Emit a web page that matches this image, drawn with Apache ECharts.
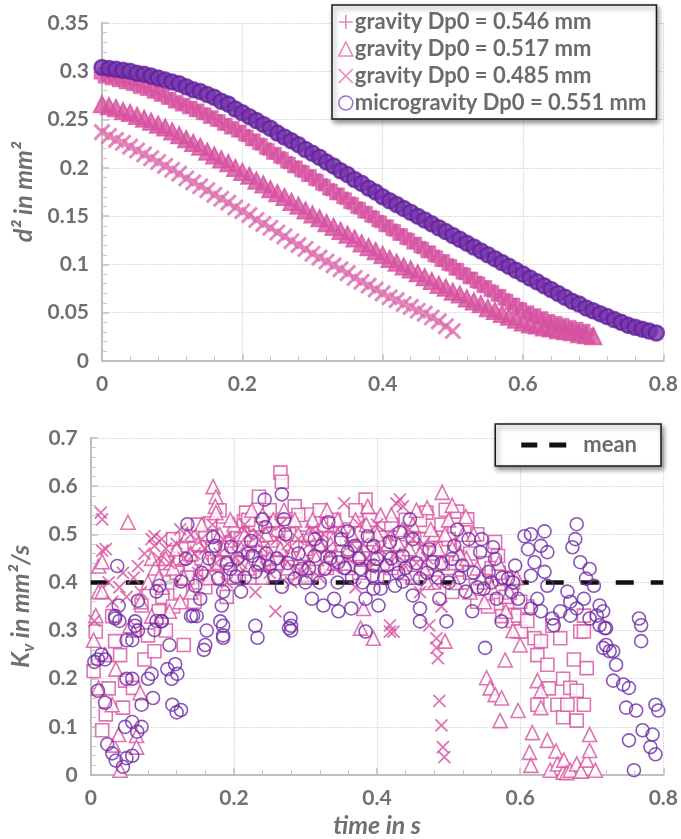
<!DOCTYPE html>
<html><head><meta charset="utf-8">
<script src="https://cdn.jsdelivr.net/npm/echarts@6/dist/echarts.min.js"></script>
<style>html,body{margin:0;padding:0;background:#fff}#c{width:681px;height:839px}</style>
</head><body><div id="c"></div>
<script>
// ---------- top chart: d^2 vs time ----------
const tTop = [0.00,0.01,0.02,0.03,0.04,0.05,0.06,0.07,0.08,0.09,0.10,0.11,0.12,0.13,0.14,0.15,0.16,0.17,0.18,0.19,
0.20,0.21,0.22,0.23,0.24,0.25,0.26,0.27,0.28,0.29,0.30,0.31,0.32,0.33,0.34,0.35,0.36,0.37,0.38,0.39,
0.40,0.41,0.42,0.43,0.44,0.45,0.46,0.47,0.48,0.49,0.50,0.51,0.52,0.53,0.54,0.55,0.56,0.57,0.58,0.59,
0.60,0.61,0.62,0.63,0.64,0.65,0.66,0.67,0.68,0.69,0.70,0.71,0.72,0.73,0.74,0.75,0.76,0.77,0.78,0.79];

const d2Micro551 = [.304,.303,.302,.301,.300,.298,.297,.295,.293,.291,.289,.287,.284,.281,.279,.276,.273,.269,.266,.261,
.257,.253,.249,.245,.241,.236,.232,.228,.224,.219,.215,.211,.206,.202,.197,.193,.188,.184,.179,.175,
.170,.166,.162,.158,.154,.150,.146,.142,.138,.134,.130,.126,.122,.118,.114,.110,.106,.102,.098,.094,
.090,.086,.082,.078,.074,.070,.066,.062,.059,.055,.052,.049,.046,.043,.040,.037,.035,.033,.031,.029];

const d2Grav546 = [.296,.294,.292,.290,.288,.285,.283,.280,.277,.274,.270,.267,.264,.261,.258,.254,.251,.247,.243,.240,
.236,.231,.227,.222,.217,.213,.208,.203,.199,.194,.190,.185,.180,.175,.171,.166,.161,.156,.152,.147,
.142,.138,.133,.129,.124,.120,.115,.111,.106,.102,.097,.093,.088,.084,.079,.075,.070,.066,.061,.057,
.052,.049,.046,.043,.040,.038,.036,.034,.032,.030];

const d2Grav517 = [.266,.264,.262,.259,.257,.254,.251,.248,.245,.242,.238,.234,.230,.226,.222,.217,.213,.209,.205,.200,
.196,.192,.187,.183,.178,.174,.170,.165,.161,.156,.152,.148,.143,.139,.135,.131,.127,.122,.118,.114,
.110,.106,.102,.098,.095,.091,.087,.083,.079,.076,.072,.069,.065,.062,.059,.055,.052,.049,.046,.043,
.040,.038,.037,.035,.034,.032,.031,.030,.028,.027,.026];

const d2Grav485 = [.237,.233,.229,.226,.222,.218,.214,.210,.206,.202,.198,.194,.189,.185,.181,.177,.172,.168,.164,.159,
.155,.151,.146,.142,.138,.133,.129,.124,.120,.116,.111,.107,.103,.099,.095,.091,.086,.082,.078,.074,
.070,.066,.063,.059,.056,.052,.049,.045,.041,.036,.031];

// ---------- bottom chart: Kv vs time ----------
const kvGrav546 = [ // squares
[0.004,0.216],[0.007,0.298],[0.016,0.093],[0.021,0.126],[0.025,0.18],[0.03,0.33],[0.034,0.278],[0.041,0.249],[0.045,0.14],[0.048,0.196],
[0.059,0.181],[0.06,0.30],[0.071,0.352],[0.075,0.24],[0.08,0.29],[0.089,0.257],[0.095,0.34],[0.10,0.37],[0.105,0.30],[0.11,0.40],
[0.115,0.35],[0.12,0.42],[0.125,0.38],[0.13,0.27],[0.13,0.469],[0.14,0.43],[0.145,0.47],[0.15,0.40],[0.155,0.45],[0.16,0.50],
[0.165,0.42],[0.167,0.523],[0.17,0.47],[0.18,0.44],[0.185,0.51],[0.19,0.48],[0.195,0.42],[0.20,0.46],[0.205,0.50],[0.21,0.44],
[0.214,0.527],[0.217,0.545],[0.22,0.48],[0.225,0.41],[0.23,0.52],[0.235,0.578],[0.24,0.47],[0.245,0.44],[0.25,0.50],[0.255,0.46],
[0.26,0.53],[0.265,0.628],[0.267,0.609],[0.27,0.48],[0.275,0.42],[0.28,0.50],[0.285,0.558],[0.29,0.45],[0.295,0.52],[0.30,0.47],
[0.305,0.541],[0.31,0.43],[0.315,0.50],[0.32,0.46],[0.33,0.52],[0.335,0.44],[0.34,0.49],[0.35,0.45],[0.36,0.51],[0.37,0.47],
[0.375,0.42],[0.384,0.572],[0.39,0.49],[0.40,0.45],[0.41,0.52],[0.42,0.43],[0.43,0.50],[0.44,0.46],[0.45,0.41],[0.46,0.49],
[0.469,0.545],[0.475,0.44],[0.48,0.40],[0.49,0.47],[0.496,0.551],[0.50,0.43],[0.505,0.38],[0.512,0.547],[0.515,0.45],[0.52,0.40],
[0.526,0.531],[0.53,0.42],[0.54,0.36],[0.55,0.44],[0.555,0.35],[0.565,0.484],[0.569,0.455],[0.57,0.38],[0.575,0.33],[0.58,0.41],
[0.585,0.36],[0.59,0.32],[0.597,0.331],[0.597,0.298],[0.601,0.298],[0.61,0.35],[0.62,0.284],[0.624,0.249],[0.624,0.146],[0.629,0.278],
[0.638,0.229],[0.64,0.18],[0.645,0.31],[0.652,0.146],[0.656,0.284],[0.66,0.20],[0.66,0.12],[0.666,0.146],[0.67,0.181],[0.675,0.24],
[0.679,0.175],[0.679,0.113],[0.684,0.298],[0.689,0.146],[0.689,0.298],[0.689,0.331],[0.693,0.222],
[0.105,0.44],[0.115,0.49],[0.125,0.45],[0.135,0.41],[0.145,0.36],[0.15,0.52],[0.16,0.39],[0.175,0.41],[0.18,0.55],[0.19,0.37],
[0.20,0.41],[0.21,0.49],[0.22,0.53],[0.23,0.45],[0.24,0.41],[0.25,0.55],[0.26,0.44],[0.27,0.52],[0.28,0.45],[0.29,0.54],
[0.30,0.41],[0.31,0.49],[0.32,0.55],[0.33,0.43],[0.34,0.53],[0.35,0.49],[0.36,0.43],[0.37,0.55],[0.38,0.45],[0.39,0.53],
[0.40,0.41],[0.41,0.48],[0.42,0.52],[0.43,0.45],[0.44,0.53],[0.45,0.47],[0.46,0.53],[0.47,0.49],[0.48,0.46],[0.49,0.52],
[0.50,0.49],[0.51,0.44],[0.52,0.48],[0.53,0.46],[0.54,0.50],[0.55,0.40],[0.56,0.43],[0.57,0.42],[0.58,0.37],[0.59,0.40],
[0.60,0.36],[0.61,0.32]];

const kvGrav517 = [ // triangles
[0.004,0.28],[0.007,0.331],[0.011,0.434],[0.011,0.381],[0.011,0.181],[0.016,0.443],[0.016,0.381],[0.02,0.25],[0.03,0.146],[0.032,0.062],
[0.035,0.22],[0.039,0.084],[0.041,0.01],[0.052,0.525],[0.055,0.31],[0.064,0.082],[0.064,0.058],[0.069,0.171],[0.07,0.36],[0.08,0.40],
[0.085,0.33],[0.09,0.43],[0.10,0.39],[0.105,0.45],[0.11,0.34],[0.12,0.47],[0.13,0.41],[0.135,0.50],[0.14,0.38],[0.15,0.48],
[0.16,0.44],[0.171,0.599],[0.175,0.578],[0.174,0.558],[0.175,0.545],[0.18,0.50],[0.19,0.45],[0.20,0.52],[0.21,0.47],[0.22,0.43],
[0.23,0.49],[0.24,0.54],[0.25,0.45],[0.26,0.51],[0.27,0.55],[0.28,0.46],[0.29,0.50],[0.30,0.43],[0.31,0.53],[0.32,0.48],
[0.33,0.55],[0.34,0.44],[0.35,0.51],[0.36,0.47],[0.37,0.53],[0.377,0.305],[0.381,0.346],[0.387,0.558],[0.395,0.284],[0.40,0.50],
[0.41,0.44],[0.42,0.54],[0.43,0.48],[0.44,0.42],[0.45,0.52],[0.46,0.46],[0.47,0.555],[0.47,0.40],[0.48,0.50],[0.49,0.44],
[0.491,0.587],[0.495,0.278],[0.50,0.53],[0.505,0.56],[0.505,0.47],[0.51,0.40],[0.52,0.50],[0.524,0.537],[0.525,0.45],[0.53,0.38],
[0.54,0.43],[0.55,0.36],[0.553,0.202],[0.558,0.181],[0.565,0.167],[0.572,0.113],[0.574,0.16],[0.579,0.239],[0.58,0.34],[0.59,0.30],
[0.597,0.134],[0.60,0.27],[0.613,0.047],[0.615,0.02],[0.617,0.088],[0.624,0.196],[0.629,0.175],[0.629,0.14],[0.638,0.072],[0.642,0.01],
[0.65,0.05],[0.652,0.023],[0.66,0.006],[0.661,0.031],[0.665,0.005],[0.67,0.01],[0.679,0.023],[0.685,0.008],[0.693,0.031],[0.697,0.051],
[0.697,0.084],[0.705,0.01],
[0.085,0.45],[0.095,0.41],[0.115,0.43],[0.125,0.36],[0.14,0.46],[0.155,0.52],[0.165,0.41],[0.185,0.47],[0.195,0.53],[0.205,0.43],
[0.215,0.50],[0.225,0.55],[0.235,0.44],[0.245,0.50],[0.255,0.53],[0.265,0.47],[0.275,0.43],[0.285,0.53],[0.295,0.46],[0.305,0.50],
[0.315,0.45],[0.325,0.52],[0.335,0.48],[0.345,0.53],[0.355,0.44],[0.365,0.50],[0.375,0.46],[0.385,0.52],[0.395,0.46],[0.405,0.54],
[0.415,0.48],[0.425,0.44],[0.435,0.51],[0.445,0.47],[0.455,0.55],[0.465,0.43],[0.475,0.51],[0.485,0.47],[0.495,0.50],[0.515,0.46],
[0.535,0.50],[0.545,0.41],[0.56,0.39],[0.57,0.44],[0.585,0.38],[0.595,0.41]];

const kvGrav485 = [ // crosses
[0.005,0.32],[0.014,0.545],[0.016,0.531],[0.016,0.466],[0.021,0.469],[0.025,0.40],[0.03,0.36],[0.045,0.42],[0.05,0.37],[0.066,0.434],
[0.075,0.46],[0.085,0.49],[0.089,0.476],[0.089,0.496],[0.099,0.49],[0.11,0.44],[0.12,0.48],[0.13,0.45],[0.14,0.50],[0.15,0.42],
[0.16,0.47],[0.17,0.52],[0.18,0.46],[0.19,0.40],[0.20,0.49],[0.21,0.44],[0.22,0.50],[0.23,0.38],[0.24,0.47],[0.25,0.42],
[0.258,0.34],[0.26,0.49],[0.27,0.45],[0.28,0.40],[0.29,0.49],[0.30,0.44],[0.31,0.51],[0.32,0.41],[0.33,0.47],[0.34,0.43],
[0.354,0.564],[0.36,0.45],[0.37,0.39],[0.38,0.48],[0.39,0.43],[0.40,0.52],[0.418,0.298],[0.418,0.311],[0.423,0.298],[0.427,0.564],
[0.432,0.572],[0.436,0.558],[0.44,0.44],[0.45,0.49],[0.46,0.38],[0.47,0.45],[0.473,0.311],[0.48,0.40],[0.483,0.284],[0.483,0.264],
[0.485,0.243],[0.487,0.154],[0.49,0.35],[0.49,0.103],[0.492,0.058],[0.494,0.037],
[0.04,0.39],[0.06,0.41],[0.07,0.38],[0.095,0.45],[0.105,0.47],[0.125,0.51],[0.145,0.46],[0.155,0.49],[0.175,0.44],[0.185,0.49],
[0.205,0.46],[0.215,0.52],[0.235,0.50],[0.245,0.43],[0.265,0.52],[0.275,0.48],[0.295,0.42],[0.305,0.48],[0.325,0.50],[0.335,0.46],
[0.345,0.51],[0.365,0.48],[0.375,0.52],[0.385,0.45],[0.405,0.47],[0.415,0.50],[0.425,0.46],[0.445,0.51],[0.455,0.44],[0.465,0.48]];

const kvMicro551 = [ // circles
[0.005,0.235],[0.01,0.24],[0.015,0.25],[0.02,0.24],[0.01,0.175],[0.02,0.15],[0.023,0.064],[0.03,0.045],[0.035,0.03],[0.045,0.017],
[0.05,0.035],[0.058,0.04],[0.034,0.33],[0.04,0.32],[0.062,0.31],[0.066,0.3],[0.05,0.28],[0.058,0.28],[0.05,0.2],[0.058,0.2],
[0.048,0.1],[0.058,0.11],[0.071,0.1],[0.065,0.09],[0.071,0.146],[0.08,0.2],[0.085,0.21],[0.087,0.16],[0.092,0.32],[0.099,0.32],
[0.11,0.27],[0.107,0.22],[0.113,0.2],[0.118,0.23],[0.121,0.21],[0.114,0.146],[0.12,0.13],[0.126,0.135],[0.14,0.33],[0.148,0.33],
[0.158,0.26],[0.16,0.27],[0.162,0.3],[0.185,0.31],[0.185,0.285],[0.23,0.31],[0.233,0.285],[0.28,0.31],[0.28,0.3],
[0.037,0.434],[0.039,0.352],[0.034,0.325],[0.066,0.362],[0.062,0.319],[0.096,0.393],[0.092,0.381],[0.099,0.319],[0.089,0.301],[0.135,0.521],
[0.133,0.449],[0.126,0.402],[0.146,0.393],[0.153,0.366],[0.143,0.331],[0.171,0.494],[0.174,0.476],[0.178,0.408],[0.185,0.381],[0.183,0.352],
[0.181,0.319],[0.185,0.29],[0.196,0.474],[0.195,0.428],[0.203,0.412],[0.21,0.381],[0.224,0.486],[0.226,0.455],[0.23,0.422],[0.243,0.572],
[0.24,0.531],[0.244,0.515],[0.267,0.583],[0.27,0.531],[0.272,0.5],[0.25,0.432],[0.256,0.414],[0.267,0.391],[0.285,0.408],[0.279,0.325],
[0.277,0.305],[0.295,0.428],[0.313,0.49],[0.322,0.476],[0.332,0.525],[0.313,0.455],[0.327,0.428],[0.309,0.366],[0.325,0.352],[0.34,0.366],
[0.35,0.49],[0.359,0.506],[0.359,0.463],[0.346,0.442],[0.369,0.476],[0.377,0.428],[0.384,0.366],[0.387,0.496],[0.395,0.476],[0.395,0.435],
[0.395,0.387],[0.384,0.298],[0.364,0.346],[0.346,0.34],
[0.446,0.531],[0.432,0.504],[0.418,0.484],[0.4,0.449],[0.414,0.435],[0.436,0.455],[0.45,0.49],[0.394,0.414],[0.405,0.387],[0.425,0.393],
[0.436,0.402],[0.46,0.408],[0.45,0.373],[0.402,0.352],[0.46,0.346],[0.46,0.319],[0.473,0.469],[0.478,0.442],[0.487,0.366],[0.497,0.319],
[0.512,0.51],[0.508,0.476],[0.505,0.449],[0.519,0.435],[0.524,0.381],[0.533,0.34],[0.528,0.49],[0.546,0.49],[0.544,0.463],[0.562,0.473],
[0.565,0.449],[0.556,0.422],[0.549,0.387],[0.567,0.366],[0.574,0.319],[0.551,0.264],[0.593,0.435],[0.583,0.408],[0.588,0.381],[0.597,0.366],
[0.606,0.496],[0.615,0.5],[0.634,0.506],[0.611,0.469],[0.629,0.476],[0.638,0.463],[0.62,0.442],[0.634,0.422],[0.615,0.414],[0.638,0.393],
[0.624,0.366],[0.615,0.346],[0.629,0.34],[0.645,0.325],[0.656,0.34],[0.647,0.311],[0.67,0.36],[0.666,0.381],[0.679,0.521],[0.677,0.49],
[0.673,0.473],[0.684,0.442],[0.697,0.428],[0.692,0.408],[0.703,0.393],[0.689,0.366],[0.679,0.346],[0.711,0.352],[0.707,0.331],[0.716,0.34],
[0.711,0.311],[0.72,0.305],[0.72,0.27],[0.73,0.257],[0.766,0.325],[0.769,0.311],[0.769,0.278],
[0.67,0.331],[0.697,0.325],[0.718,0.305],[0.716,0.264],[0.725,0.257],[0.734,0.229],[0.73,0.196],[0.744,0.188],[0.752,0.181],[0.748,0.14],
[0.762,0.134],[0.789,0.146],[0.793,0.134],[0.752,0.072],[0.771,0.093],[0.785,0.084],[0.782,0.058],[0.789,0.043],[0.759,0.01],
[0.155,0.42],[0.165,0.45],[0.19,0.44],[0.205,0.45],[0.215,0.41],[0.22,0.46],[0.235,0.44],[0.245,0.46],[0.26,0.45],[0.275,0.44],
[0.29,0.46],[0.30,0.40],[0.305,0.43],[0.32,0.40],[0.335,0.45],[0.345,0.40],[0.355,0.43],[0.365,0.41],[0.375,0.45],[0.38,0.40],
[0.41,0.41],[0.42,0.45],[0.43,0.42],[0.44,0.43],[0.455,0.44],[0.47,0.42],[0.485,0.41],[0.49,0.44],[0.50,0.40],[0.515,0.41],
[0.535,0.42],[0.54,0.39],[0.56,0.40],[0.575,0.41],[0.59,0.40]];

const meanKv = [[0, 0.4], [0.8, 0.4]];

// ---------- styling ----------
const PINK = '#d6519f';
const PINK_L = '#dd6cad';
const PURPLE = '#6e2aa6';
const GRAY = '#707070';
const FONT = 'Lato, "Open Sans", sans-serif';
const PLUS = 'path://M5,0L5,10M0,5L10,5';
const PLUS_FAT = 'path://M2.5,0H7.5V2.5H10V7.5H7.5V10H2.5V7.5H0V2.5H2.5Z';
const CROSS = 'path://M0,0L10,10M10,0L0,10';

const names = ['gravity Dp0 = 0.546 mm','gravity Dp0 = 0.517 mm','gravity Dp0 = 0.485 mm','microgravity Dp0 = 0.551 mm'];

function pairs(ts, vs){ return vs.map((v,i)=>[ts[i], v]); }

function valAxis(grid, min, max, interval, extra){
  return Object.assign({
    type:'value', gridIndex:grid, min:min, max:max, interval:interval,
    axisLine:{show:true, onZero:false, lineStyle:{color:'#bfbfbf', width:2}},
    axisTick:{show:true, inside:true, length:7, lineStyle:{color:'#bfbfbf', width:1.5}},
    minorTick:{show:true, splitNumber:5, length:5, lineStyle:{color:'#c8c8c8', width:1}},
    splitLine:{show:true, lineStyle:{color:'#d2d2d2', type:'dotted', width:1.2}},
    axisLabel:{color:GRAY, fontSize:21, fontWeight:'bold', fontFamily:FONT, margin:13,
      formatter: v => String(+v.toFixed(3))}
  }, extra||{});
}

const nameStyle = {color:GRAY, fontSize:25, fontWeight:'bold', fontStyle:'italic', fontFamily:FONT};

const chart = echarts.init(document.getElementById('c'), null, {renderer:'canvas'});
chart.setOption({
  animation:false,
  backgroundColor:'#fff',
  grid:[
    {left:102, right:14, top:23, height:338},
    {left:85, right:13, top:438, height:340}
  ],
  xAxis:[
    valAxis(0, 0, 0.8, 0.2),
    valAxis(1, 0, 0.8, 0.2, {name:'time in s', nameLocation:'middle', nameGap:38, nameTextStyle:nameStyle})
  ],
  yAxis:[
    valAxis(0, 0, 0.35, 0.05, {name:'d² in mm²', nameLocation:'middle', nameGap:66, nameRotate:90, nameTextStyle:nameStyle}),
    valAxis(1, 0, 0.7, 0.1, {name:'{a|K}{s|v}{a| in mm²/s}', nameLocation:'middle', nameGap:46, nameRotate:90,
      nameTextStyle:Object.assign({}, nameStyle, {
        rich:{
          a:Object.assign({}, nameStyle, {lineHeight:34, verticalAlign:'middle'}),
          s:Object.assign({}, nameStyle, {fontSize:17, lineHeight:34, verticalAlign:'bottom'})
        }})})
  ],
  legend:[
    {
      data:[
        {name:names[0], icon:PLUS, itemStyle:{color:'rgba(0,0,0,0)', borderColor:PINK_L, borderWidth:1.6}},
        {name:names[1], icon:'triangle', itemStyle:{color:'rgba(0,0,0,0)', borderColor:PINK_L, borderWidth:1.6}},
        {name:names[2], icon:CROSS, itemStyle:{color:'rgba(0,0,0,0)', borderColor:PINK_L, borderWidth:1.6}},
        {name:names[3], icon:'circle', itemStyle:{color:'rgba(0,0,0,0)', borderColor:'#8a4cc4', borderWidth:1.6}}
      ],
      orient:'vertical', left:332, top:5, selectedMode:false,
      itemWidth:14, itemHeight:14, itemGap:5,
      padding:[6,10,5,6],
      backgroundColor:'#fff', borderColor:'#1a1a1a', borderWidth:1.5,
      shadowBlur:5, shadowColor:'rgba(0,0,0,0.45)', shadowOffsetX:2, shadowOffsetY:3,
      textStyle:{color:'#6b6b6b', fontSize:22, fontWeight:'bold', fontFamily:FONT, padding:[0,0,0,-3]}
    },
    {
      data:[{name:'mean', icon:'path://M0,0h16v5h-16z M28,0h17v5h-17z', itemStyle:{color:'#111'}}],
      right:20, top:424, selectedMode:false,
      itemWidth:45, itemHeight:5,
      padding:[10,24,10,26],
      backgroundColor:'#fff', borderColor:'#1a1a1a', borderWidth:1.5,
      shadowBlur:5, shadowColor:'rgba(0,0,0,0.45)', shadowOffsetX:2, shadowOffsetY:3,
      textStyle:{color:'#6b6b6b', fontSize:22, fontWeight:'bold', fontFamily:FONT, padding:[0,0,0,12]}
    }
  ],
  series:[
    // top
    {name:names[0], type:'scatter', xAxisIndex:0, yAxisIndex:0, symbol:PLUS_FAT, symbolSize:16,
      itemStyle:{color:'#d6519f', borderColor:PINK, borderWidth:0.5},
      data:pairs(tTop, d2Grav546)},
    {name:names[1], type:'scatter', xAxisIndex:0, yAxisIndex:0, symbol:'triangle', symbolSize:17,
      itemStyle:{color:'#d6519f', borderColor:PINK, borderWidth:1.5},
      data:pairs(tTop, d2Grav517)},
    {name:names[2], type:'scatter', xAxisIndex:0, yAxisIndex:0, symbol:CROSS, symbolSize:15,
      itemStyle:{color:'rgba(0,0,0,0)', borderColor:PINK_L, borderWidth:3},
      data:pairs(tTop, d2Grav485)},
    {name:names[3], type:'scatter', xAxisIndex:0, yAxisIndex:0, symbol:'circle', symbolSize:15,
      itemStyle:{color:'#7634ad', borderColor:'#62209a', borderWidth:2.5},
      data:pairs(tTop, d2Micro551)},
    // bottom
    {name:'mean', type:'line', xAxisIndex:1, yAxisIndex:1, symbol:'none', z:1,
      lineStyle:{color:'#111', width:4.5, type:[18,17]}, itemStyle:{color:'#111'},
      data:meanKv},
    {name:'kv 0.546', type:'scatter', xAxisIndex:1, yAxisIndex:1, symbol:'rect', symbolSize:13,
      itemStyle:{color:'#fff', borderColor:PINK, borderWidth:1.6}, data:kvGrav546},
    {name:'kv 0.517', type:'scatter', xAxisIndex:1, yAxisIndex:1, symbol:'triangle', symbolSize:14,
      itemStyle:{color:'#fff', borderColor:PINK, borderWidth:1.6}, data:kvGrav517},
    {name:'kv 0.485', type:'scatter', xAxisIndex:1, yAxisIndex:1, symbol:CROSS, symbolSize:12,
      itemStyle:{color:'rgba(0,0,0,0)', borderColor:PINK, borderWidth:1.8}, data:kvGrav485},
    {name:'kv 0.551', type:'scatter', xAxisIndex:1, yAxisIndex:1, symbol:'circle', symbolSize:13,
      itemStyle:{color:'rgba(255,255,255,0)', borderColor:PURPLE, borderWidth:1.6}, data:kvMicro551}
  ]
});
</script></body></html>
